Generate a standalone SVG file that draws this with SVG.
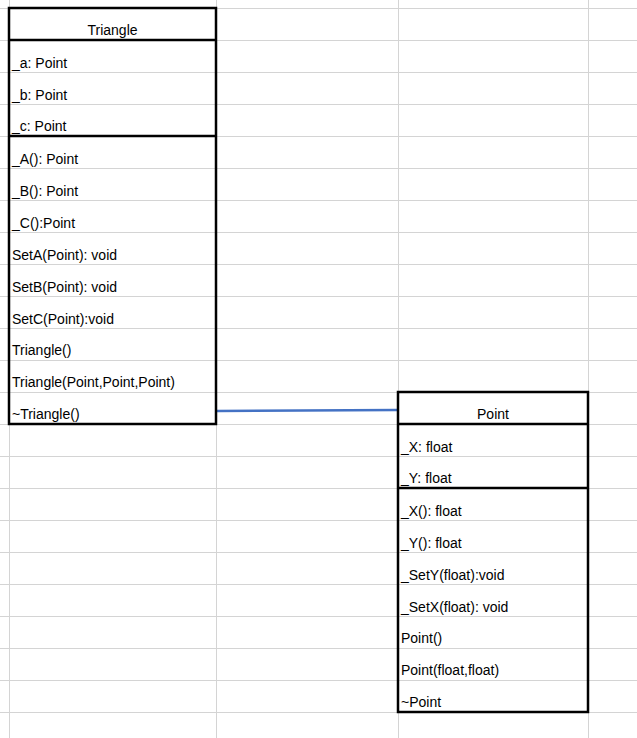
<svg xmlns="http://www.w3.org/2000/svg" width="637" height="738" viewBox="0 0 637 738">
<style>
.grid line{stroke:#d4d4d4;stroke-width:1}
.box{fill:none;stroke:#000;stroke-width:2.5}
.sep{stroke:#000;stroke-width:2.5}
text{font-family:"Liberation Sans",Arial,sans-serif;font-size:14px;fill:#000}
.hd{text-anchor:middle}
.conn{stroke:#4472C4;stroke-width:2.5;fill:none}
</style>
<rect width="637" height="738" fill="#fff"/>
<g class="grid">
<line x1="9.5" y1="0" x2="9.5" y2="738"/>
<line x1="216.5" y1="0" x2="216.5" y2="738"/>
<line x1="398.5" y1="0" x2="398.5" y2="738"/>
<line x1="588.5" y1="0" x2="588.5" y2="738"/>
<line x1="0" y1="8.5" x2="637" y2="8.5"/>
<line x1="0" y1="40.5" x2="637" y2="40.5"/>
<line x1="0" y1="72.5" x2="637" y2="72.5"/>
<line x1="0" y1="104.5" x2="637" y2="104.5"/>
<line x1="0" y1="136.5" x2="637" y2="136.5"/>
<line x1="0" y1="168.5" x2="637" y2="168.5"/>
<line x1="0" y1="200.5" x2="637" y2="200.5"/>
<line x1="0" y1="232.5" x2="637" y2="232.5"/>
<line x1="0" y1="264.5" x2="637" y2="264.5"/>
<line x1="0" y1="296.5" x2="637" y2="296.5"/>
<line x1="0" y1="328.5" x2="637" y2="328.5"/>
<line x1="0" y1="360.5" x2="637" y2="360.5"/>
<line x1="0" y1="392.5" x2="637" y2="392.5"/>
<line x1="0" y1="424.5" x2="637" y2="424.5"/>
<line x1="0" y1="456.5" x2="637" y2="456.5"/>
<line x1="0" y1="488.5" x2="637" y2="488.5"/>
<line x1="0" y1="520.5" x2="637" y2="520.5"/>
<line x1="0" y1="552.5" x2="637" y2="552.5"/>
<line x1="0" y1="584.5" x2="637" y2="584.5"/>
<line x1="0" y1="616.5" x2="637" y2="616.5"/>
<line x1="0" y1="648.5" x2="637" y2="648.5"/>
<line x1="0" y1="680.5" x2="637" y2="680.5"/>
<line x1="0" y1="712.5" x2="637" y2="712.5"/>
</g>
<g id="connectors">
<line class="conn" x1="217" y1="411" x2="397" y2="410"/>
</g>
<g id="Triangle">
<rect class="box" x="9" y="8" width="207" height="416" fill="none"/>
<line class="sep" x1="9" y1="40" x2="216" y2="40"/>
<line class="sep" x1="9" y1="136" x2="216" y2="136"/>
<text class="hd" x="112.5" y="35">Triangle</text>
<text x="12" y="68">_a: Point</text>
<text x="12" y="100">_b: Point</text>
<text x="12" y="131">_c: Point</text>
<text x="12" y="164">_A(): Point</text>
<text x="12" y="196">_B(): Point</text>
<text x="12" y="228">_C():Point</text>
<text x="12" y="260">SetA(Point): void</text>
<text x="12" y="292">SetB(Point): void</text>
<text x="12" y="324">SetC(Point):void</text>
<text x="12" y="355">Triangle()</text>
<text x="12" y="387">Triangle(Point,Point,Point)</text>
<text x="12" y="419">~Triangle()</text>
</g>
<g id="Point">
<rect class="box" x="398" y="392" width="190" height="320"/>
<line class="sep" x1="398" y1="424" x2="588" y2="424"/>
<line class="sep" x1="398" y1="488" x2="588" y2="488"/>
<text class="hd" x="493" y="419">Point</text>
<text x="401" y="452">_X: float</text>
<text x="401" y="483">_Y: float</text>
<text x="401" y="516">_X(): float</text>
<text x="401" y="548">_Y(): float</text>
<text x="401" y="580">_SetY(float):void</text>
<text x="401" y="612">_SetX(float): void</text>
<text x="401" y="643">Point()</text>
<text x="401" y="675">Point(float,float)</text>
<text x="401" y="707">~Point</text>
</g>
</svg>
